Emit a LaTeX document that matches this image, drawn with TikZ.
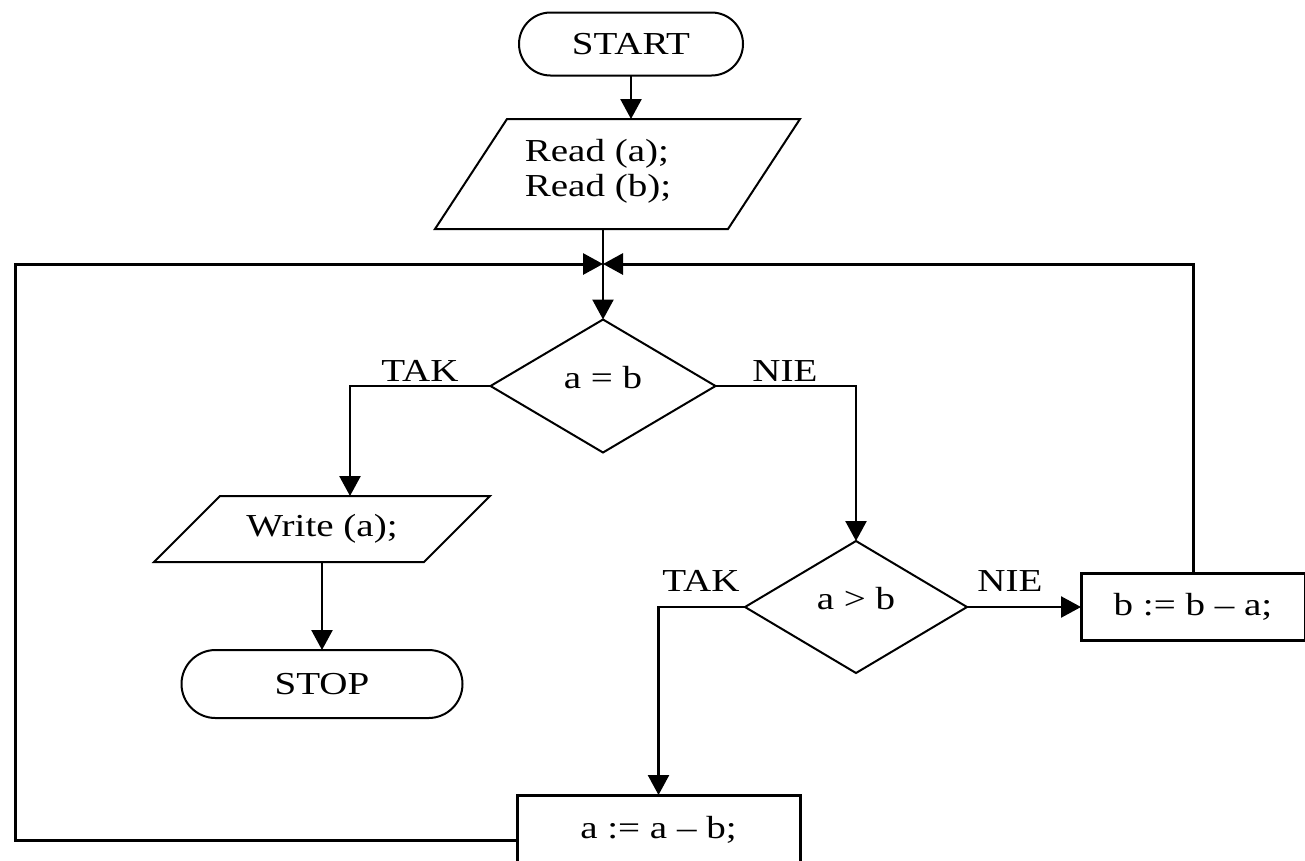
\documentclass[tikz,border=0pt]{standalone}
\usepackage{fontspec}
\setmainfont{Liberation Serif}[FakeStretch=1.22]
\usetikzlibrary{shapes.geometric,shapes.misc,arrows.meta,calc}

\begin{document}
\begin{tikzpicture}[x=1pt,y=-1pt,
  every node/.style={font=\fontsize{32}{35}\selectfont, inner sep=0pt, outer sep=0pt},
  terminal/.style={rounded rectangle, draw, line width=2pt},
  iobox/.style={rectangle},
  slanted/.style={line width=2pt, line join=miter},
  decision/.style={diamond, draw, line width=2pt, text depth=17pt},
  process/.style={rectangle, draw, line width=3pt},
  flow/.style={line width=2.5pt, -{Triangle[length=20pt,width=21pt]}},
  tag/.style={}
]
\useasboundingbox (0,0) rectangle (1305,860);
\clip (0,0) rectangle (1305,860);

% shapes
\node[terminal, minimum width=224pt, minimum height=63pt] (start) at (631,44) {START};

% input parallelogram: body node plus slanted outline
\node[iobox, minimum width=365pt, minimum height=110pt] (read) at (617.5,174) {};
\draw[slanted] (read.south west) -- ($(read.north west)+(72,0)$) -- (read.north east)
  -- ($(read.south east)-(72,0)$) -- cycle;
\node[align=left] (readtext) at (598,171) {Read (a);\\Read (b);};

\node[decision, minimum width=225pt, minimum height=133pt] (d1) at (603,386) {a = b};

% output parallelogram
\node[iobox, minimum width=336pt, minimum height=66pt] (write) at (322,529) {Write (a);};
\draw[slanted] (write.south west) -- ($(write.north west)+(66,0)$) -- (write.north east)
  -- ($(write.south east)-(66,0)$) -- cycle;

\node[terminal, minimum width=281pt, minimum height=68pt] (stop) at (322,684) {STOP};
\node[decision, minimum width=222pt, minimum height=132pt] (d2) at (856,607) {a > b};
\node[process, minimum width=224pt, minimum height=67pt] (bsub) at (1193,606.5) {b := b \textendash{} a;};
\node[process, minimum width=283pt, minimum height=70pt] (asub) at (658.5,830) {a := a \textendash{} b;};

% branch labels
\node[tag] (tak1) at (420,371) {TAK};
\node[tag] (nie1) at (785,371) {NIE};
\node[tag] (tak2) at (701,581) {TAK};
\node[tag] (nie2) at (1010,581) {NIE};

% helper points
\coordinate (join) at (603,264);
\coordinate (leftrail) at (15,264);
\coordinate (takdrop) at (350,386);

% connectors
\draw[flow] (start.south) -- (start.south |- read.north);
\draw[flow] (read.south -| d1.north) -- (d1.north);
\draw[flow] (d1.west) -- (takdrop) -- (takdrop |- write.north);
\draw[flow] (d1.east) -| (d2.north);
\draw[flow] (write.south) -- (stop.north);
\draw[flow] (d2.west) -| (asub.north);
\draw[flow] (d2.east) -- (d2.east -| bsub.west);
\draw[flow, line width=3pt] ($(asub.west)+(0,10)$) -| (leftrail) -- (join);
\draw[flow, line width=3pt] (bsub.north) |- (join);
\end{tikzpicture}
\end{document}
